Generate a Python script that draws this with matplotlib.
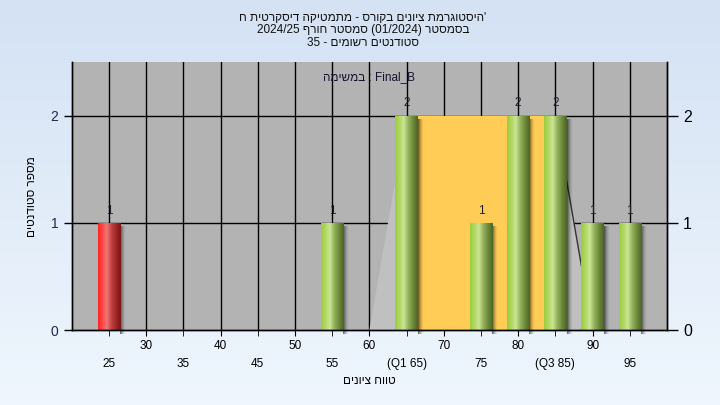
"""
  Grade histogram (Hebrew labels) -> out.png
"""

import re
import numpy as np
import matplotlib
matplotlib.use('Agg')
import matplotlib.pyplot as plt
from matplotlib.patches import Polygon, Rectangle

matplotlib.rc('font', family=['Liberation Sans', 'DejaVu Sans'], size=8)

# data
scores = [25, 55, 65, 75, 80, 85, 90, 95]
counts = [1, 1, 2, 1, 2, 2, 1, 1]
failed = [True, False, False, False, False, False, False, False]
q1, q3 = 65, 85
whisk_lo, whisk_hi = 60, 90
major_ticks = [30, 40, 50, 60, 70, 80, 90]
minor_ticks = [25, 35, 45, 55, 65, 75, 85, 95]
minor_labels = ['25', '35', '45', '55', '(Q1 65)', '75', '(Q3 85)', '95']

title_lines = ['היסטוגרמת ציונים בקורס - מתמטיקה דיסקרטית ח',
               'בסמסטר (01/2024) סמסטר חורף 2024/25',
               'סטודנטים רשומים - 35']
task_label = 'Final_B : במשימה'
xlabel = 'טווח ציונים'
ylabel = 'מספר סטודנטים'


def vis(s):
  # crude bidi: matplotlib draws left to right, so flip the hebrew
  r = s[::-1]
  r = re.sub(r'[A-Za-z0-9_/.]+', lambda m: m.group(0)[::-1], r)
  return r.translate(str.maketrans('()', ')('))


def grad(stops, n=64):
  xs = np.linspace(0, 1, n)
  pos = [p for p, c in stops]
  cols = np.array([matplotlib.colors.to_rgb(c) for p, c in stops])
  return np.stack([np.interp(xs, pos, cols[:, i]) for i in range(3)], axis=-1)


green = grad([(0, '#9ccb3e'), (0.2, '#b2d862'), (0.38, '#cbe596'),
              (0.6, '#8fae58'), (0.85, '#627f34'), (1, '#4c6426')])
red = grad([(0, '#ff2424'), (0.2, '#ff4a4a'), (0.38, '#ef7676'),
            (0.6, '#bf4040'), (0.85, '#952222'), (1, '#7a1414')])


def main():
  fig = plt.figure(figsize=(7.2, 4.05), dpi=100)

  # figure background gradient
  bg = fig.add_axes([0, 0, 1, 1], zorder=-5)
  col = grad([(0, '#d4e2f4'), (1, '#eff6fd')])
  bg.imshow(col[:, None, :], aspect='auto', extent=[0, 1, 0, 1])
  bg.axis('off')

  ax = fig.add_axes([0.0996, 0.185, 0.8268, 0.661])
  ax.set_facecolor('#b3b3b3')
  ax.set_xlim(20, 100)
  ax.set_ylim(0, 2.5)

  # grid
  for x in range(25, 100, 5):
    ax.axvline(x, color='black', lw=1, zorder=0.5)
  for y in [1, 2]:
    ax.axhline(y, color='black', lw=1, zorder=0.5)

  # whisker area and IQR box
  ax.add_patch(Polygon([(whisk_lo, 0), (q1, 2), (q3, 2), (whisk_hi, 0)],
                       closed=True, fc='#c0c0c0', ec='none', zorder=1))
  ax.plot([q3, whisk_hi], [2, 0], color='#333333', lw=1, zorder=1.05)
  ax.add_patch(Rectangle((q1, 0), q3 - q1, 2, fc='#ffcc55', ec='none',
                         zorder=1.1))

  w = 3.0
  shade = np.zeros((1, 32, 4))
  shade[0, :, 3] = 0.6 * np.linspace(1, 0, 32) ** 1.6
  for s, c, f in zip(scores, counts, failed):
    x0 = s - w / 2
    ax.imshow(shade, aspect='auto', extent=[x0 + w, x0 + w + 0.75, -0.04, c - 0.04],
              zorder=1.5, clip_on=False)
    b = ax.bar(s, c, width=w, color='none', zorder=2)[0]
    im = ax.imshow((red if f else green)[None, :, :], aspect='auto',
                   extent=[x0, x0 + w, 0, c], zorder=2)
    im.set_clip_path(b)
    ax.text(s, c + 0.06, str(c), ha='center', va='bottom', fontsize=8.5,
            color='#1c2030', zorder=3)

  ax.set_xlim(20, 100)
  ax.set_ylim(0, 2.5)

  ax.text(60, 2.36, vis(task_label), ha='center', va='center', fontsize=8.5,
          color='#1a1030')

  # x axis: two rows of labels
  ax.set_xticks(major_ticks)
  ax.set_xticklabels([str(t) for t in major_ticks])
  ax.set_xticks(minor_ticks, minor=True)
  ax.set_xticklabels(minor_labels, minor=True)
  ax.tick_params(axis='x', which='major', length=4, pad=3, labelsize=8.5)
  ax.tick_params(axis='x', which='minor', length=4, pad=16, labelsize=8.5)
  ax.set_xlabel(vis(xlabel), fontsize=8.5)
  ax.xaxis.set_label_coords(0.5, -0.168)

  ax.set_yticks([0, 1, 2])
  ax.tick_params(axis='y', length=6, width=1, labelsize=10, colors='black',
                 labelcolor='#1a2a50')
  ax.set_ylabel(vis(ylabel), fontsize=8.5)
  ax.yaxis.set_label_coords(-0.057, 0.5)

  ax2 = ax.twinx()
  ax2.set_ylim(0, 2.5)
  ax2.set_yticks([0, 1, 2])
  ax2.tick_params(axis='y', length=8, width=1, labelsize=11.5)

  for a in (ax, ax2):
    a.spines['top'].set_visible(False)
    for k in ['left', 'right', 'bottom']:
      a.spines[k].set_color('black')
      a.spines[k].set_linewidth(1)

  ys = [0.955, 0.925, 0.895]
  for i, t in enumerate(title_lines):
    txt = vis(t)
    if i == 0:
      txt = txt + "'"
    fig.text(363 / 720., ys[i], txt, ha='center', va='center', fontsize=8.5,
             color='#101010')

  fig.savefig('out.png', dpi=100)
  plt.close()


if __name__ == "__main__":
  main()
